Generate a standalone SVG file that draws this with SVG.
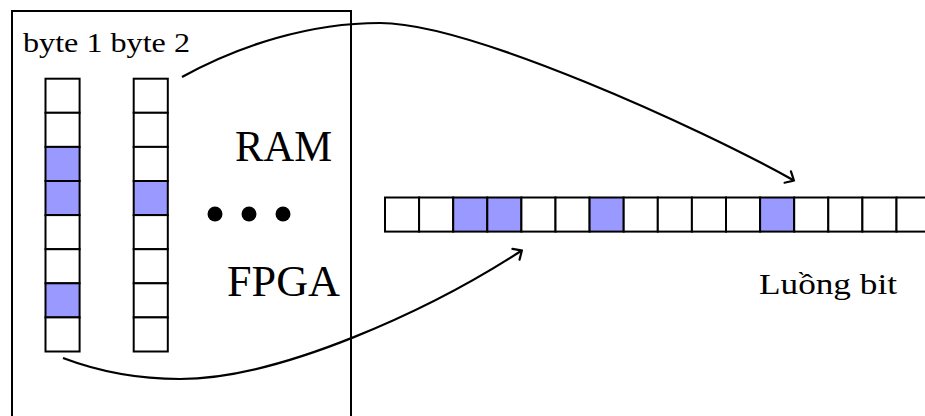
<svg xmlns="http://www.w3.org/2000/svg" width="925" height="416" viewBox="0 0 925 416">
<style>
.cell{fill:#ffffff;stroke:#000;stroke-width:2}
.on{fill:#9999ff;stroke:#000;stroke-width:2}
text{font-family:'Liberation Serif','Times New Roman',serif;fill:#000}
.edge{fill:none;stroke:#000;stroke-width:2.2}
</style>
<defs>
<marker id="tip" viewBox="-10 -8 14 16" markerWidth="14" markerHeight="16" refX="0" refY="0" orient="auto" markerUnits="userSpaceOnUse">
<path d="M-6,-6.5 Q-1,-2 1,0 Q-1,2 -6,6.5" fill="none" stroke="#000" stroke-width="2.2" stroke-linecap="round"/>
</marker>
</defs>
<rect width="925" height="416" fill="#fff"/>
<g id="fpga">
<path d="M12,420 L12,11 L351,11 L351,420" fill="none" stroke="#000" stroke-width="2"/>
<text x="235" y="161" font-family="Liberation Serif, serif" font-size="44" textLength="97" lengthAdjust="spacingAndGlyphs">RAM</text>
<text x="227" y="296" font-family="Liberation Serif, serif" font-size="44" textLength="113" lengthAdjust="spacingAndGlyphs">FPGA</text>
<circle cx="215" cy="214" r="7.5" fill="#000"/>
<circle cx="249" cy="214" r="7.5" fill="#000"/>
<circle cx="283" cy="214" r="7.5" fill="#000"/>
</g>
<g id="byte1">
<text x="23" y="52" font-family="Liberation Serif, serif" font-size="28" textLength="167" lengthAdjust="spacingAndGlyphs">byte 1 byte 2</text>
<rect class="cell" x="45.5" y="78.7" width="34.1" height="34.1"/>
<rect class="cell" x="45.5" y="112.8" width="34.1" height="34.1"/>
<rect class="on" x="45.5" y="146.9" width="34.1" height="34.1"/>
<rect class="on" x="45.5" y="181" width="34.1" height="34.1"/>
<rect class="cell" x="45.5" y="215.1" width="34.1" height="34.1"/>
<rect class="cell" x="45.5" y="249.2" width="34.1" height="34.1"/>
<rect class="on" x="45.5" y="283.3" width="34.1" height="34.1"/>
<rect class="cell" x="45.5" y="317.4" width="34.1" height="34.1"/>
</g>
<g id="byte2">
<rect class="cell" x="133.7" y="78.7" width="34.1" height="34.1"/>
<rect class="cell" x="133.7" y="112.8" width="34.1" height="34.1"/>
<rect class="cell" x="133.7" y="146.9" width="34.1" height="34.1"/>
<rect class="on" x="133.7" y="181" width="34.1" height="34.1"/>
<rect class="cell" x="133.7" y="215.1" width="34.1" height="34.1"/>
<rect class="cell" x="133.7" y="249.2" width="34.1" height="34.1"/>
<rect class="cell" x="133.7" y="283.3" width="34.1" height="34.1"/>
<rect class="cell" x="133.7" y="317.4" width="34.1" height="34.1"/>
</g>
<g id="bitstream">
<rect class="cell" x="385" y="197.5" width="34.1" height="34.1"/>
<rect class="cell" x="419.1" y="197.5" width="34.1" height="34.1"/>
<rect class="on" x="453.2" y="197.5" width="34.1" height="34.1"/>
<rect class="on" x="487.3" y="197.5" width="34.1" height="34.1"/>
<rect class="cell" x="521.4" y="197.5" width="34.1" height="34.1"/>
<rect class="cell" x="555.5" y="197.5" width="34.1" height="34.1"/>
<rect class="on" x="589.6" y="197.5" width="34.1" height="34.1"/>
<rect class="cell" x="623.7" y="197.5" width="34.1" height="34.1"/>
<rect class="cell" x="657.8" y="197.5" width="34.1" height="34.1"/>
<rect class="cell" x="691.9" y="197.5" width="34.1" height="34.1"/>
<rect class="cell" x="726" y="197.5" width="34.1" height="34.1"/>
<rect class="on" x="760.1" y="197.5" width="34.1" height="34.1"/>
<rect class="cell" x="794.2" y="197.5" width="34.1" height="34.1"/>
<rect class="cell" x="828.3" y="197.5" width="34.1" height="34.1"/>
<rect class="cell" x="862.4" y="197.5" width="34.1" height="34.1"/>
<rect class="cell" x="896.5" y="197.5" width="34.1" height="34.1"/>
<text x="759" y="294" font-family="Liberation Serif, serif" font-size="30" textLength="138" lengthAdjust="spacingAndGlyphs">Luồng bit</text>
</g>
<g id="connectors">
<path class="edge" d="M182,77 C240,45 310,23 380,23 C470,23 700,128 793,180" marker-end="url(#tip)"/>
<path class="edge" d="M63,358 C100,372 140,379 180,379 C280,379 430,310 521,251" marker-end="url(#tip)"/>
</g>
</svg>
